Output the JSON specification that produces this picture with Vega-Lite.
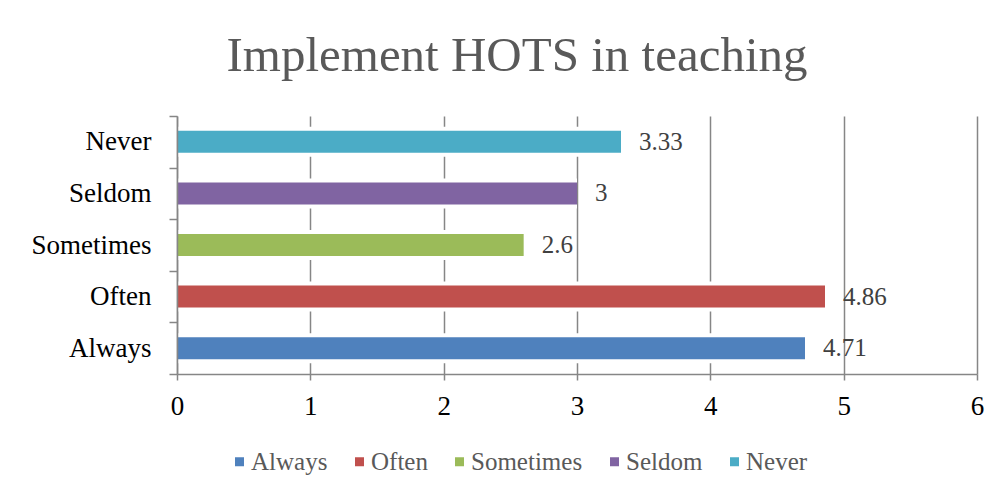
{
  "$schema": "https://vega.github.io/schema/vega-lite/v6.json",
  "width": 800,
  "height": 258,
  "autosize": {"type": "none"},
  "padding": {"left": 177, "top": 116, "right": 25, "bottom": 120},
  "background": "white",
  "config": {"view": {"stroke": null}},
  "title": {
    "text": "Implement HOTS in teaching",
    "font": "Liberation Serif",
    "fontSize": 49,
    "fontWeight": "normal",
    "color": "#595959",
    "anchor": "middle",
    "frame": "group",
    "dx": -60,
    "baseline": "alphabetic",
    "offset": -18
  },
  "data": {
    "values": [
      {"response": "Always", "score": 4.71},
      {"response": "Often", "score": 4.86},
      {"response": "Sometimes", "score": 2.6},
      {"response": "Seldom", "score": 3},
      {"response": "Never", "score": 3.33}
    ]
  },
  "encoding": {
    "y": {
      "field": "response",
      "type": "nominal",
      "sort": ["Never", "Seldom", "Sometimes", "Often", "Always"],
      "scale": {"paddingInner": 0, "paddingOuter": 0},
      "axis": {
        "title": null,
        "zindex": 1,
        "grid": false,
        "domainColor": "#868686",
        "domainWidth": 1.5,
        "tickColor": "#868686",
        "tickWidth": 1.5,
        "tickSize": 8,
        "tickBand": "extent",
        "labelFont": "Liberation Serif",
        "labelFontSize": 27,
        "labelColor": "#000000",
        "labelPadding": 18
      }
    },
    "x": {
      "field": "score",
      "type": "quantitative",
      "scale": {"domain": [0, 6], "nice": false},
      "axis": {
        "title": null,
        "values": [0, 1, 2, 3, 4, 5, 6],
        "format": "d",
        "grid": true,
        "gridColor": "#868686",
        "gridWidth": 1.5,
        "domainColor": "#868686",
        "domainWidth": 1.5,
        "tickColor": "#868686",
        "tickWidth": 1.5,
        "tickSize": 6,
        "labelFlush": false,
        "labelFont": "Liberation Serif",
        "labelFontSize": 27,
        "labelColor": "#000000",
        "labelPadding": 13
      }
    }
  },
  "layer": [
    {"mark": {"type": "bar", "color": "white", "size": 30}},
    {
      "mark": {"type": "bar", "size": 22},
      "encoding": {
        "color": {
          "field": "response",
          "type": "nominal",
          "scale": {
            "domain": ["Always", "Often", "Sometimes", "Seldom", "Never"],
            "range": ["#4F81BD", "#C0504D", "#9BBB59", "#8064A2", "#4BACC6"]
          },
          "legend": {
            "title": null,
            "orient": "none",
            "legendX": 50,
            "legendY": 333,
            "direction": "horizontal",
            "symbolType": "square",
            "symbolSize": 81,
            "symbolStrokeWidth": 0,
            "labelFont": "Liberation Serif",
            "labelFontSize": 25,
            "labelColor": "#595959",
            "labelOffset": -1,
            "columnPadding": 19
          }
        }
      }
    },
    {
      "mark": {"type": "text", "align": "left", "baseline": "middle", "dx": 18, "font": "Liberation Serif", "fontSize": 25, "color": "#404040"},
      "encoding": {"text": {"field": "score", "type": "quantitative", "format": "~g"}}
    }
  ]
}
